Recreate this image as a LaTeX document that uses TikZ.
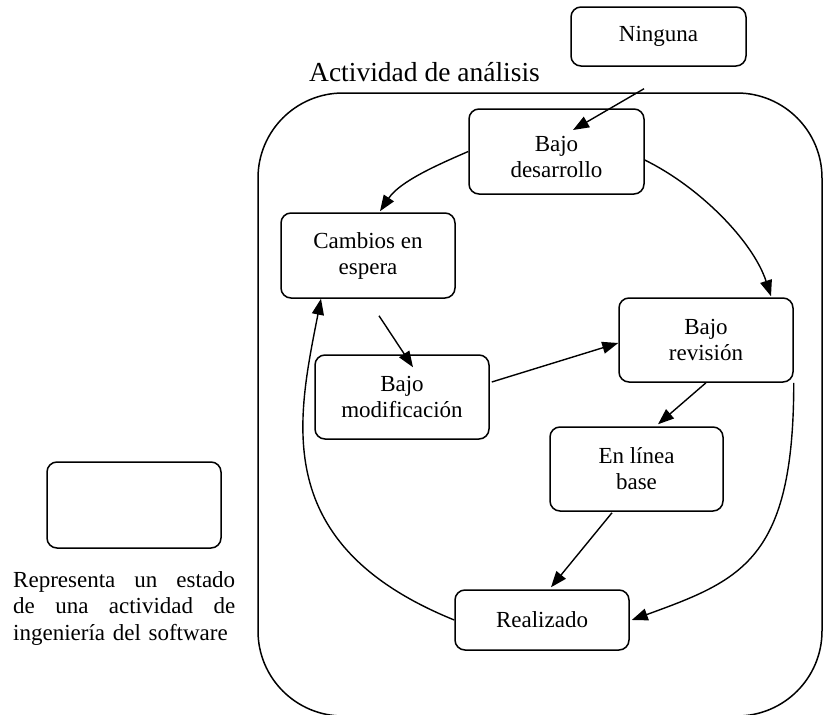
\documentclass[tikz,border=0pt]{standalone}
\usepackage{fontspec}
\setmainfont{Liberation Serif}
\usetikzlibrary{arrows.meta,calc}
\begin{document}
\begin{tikzpicture}[x=1pt,y=-1pt,
  state/.style={draw, line width=1.5pt, rounded corners=10pt, align=center,
    inner sep=0pt, font=\fontsize{23}{26}\selectfont},
  statetext/.style={align=center, inner sep=0pt, font=\fontsize{23}{26}\selectfont},
  flow/.style={line width=1.4pt, -{Triangle[length=16pt,width=12pt]}},
  frame/.style={draw, line width=1.5pt, rounded corners=85pt}]
\useasboundingbox (0,0) rectangle (823,715);
\fill[white] (0,0) rectangle (823,715);

% activity frame and its title
\draw[frame] (258,93) rectangle (822,716);
\node[font=\fontsize{27.5}{32}\selectfont, anchor=base, inner sep=0pt] (title) at (424.5,81) {Actividad de análisis};

% states
\node[state, minimum width=175pt, minimum height=59pt] (ning) at (658.5,36.5) {Ninguna};
\node[state, minimum width=175pt, minimum height=85pt] (bdes) at (556.5,151.5) {};
\node[statetext] (bdestext) at ($(bdes.center)+(0,5)$) {Bajo\\desarrollo};
\node[state, minimum width=174pt, minimum height=85pt] (cesp) at (368,255.5) {Cambios en\\espera};
\node[state, minimum width=174pt, minimum height=84pt] (bmod) at (402,397) {Bajo\\modificación};
\node[state, minimum width=174pt, minimum height=84pt] (brev) at (706,340) {Bajo\\revisión};
\node[state, minimum width=173pt, minimum height=84pt] (elb) at (636.5,469) {En línea\\base};
\node[state, minimum width=174pt, minimum height=60pt] (real) at (542,620) {Realizado};

% legend
\node[state, minimum width=174pt, minimum height=86pt] (legbox) at (134,505) {};
\node[anchor=north west, text width=222pt, align=left, inner sep=0pt,
  font=\fontsize{23}{26.5}\selectfont] (legtext) at (13,571)
  {\leavevmode\hbox to 222pt{Representa\hfill un\hfill estado}\\
   \leavevmode\hbox to 222pt{de\hfill una\hfill actividad\hfill de}\\
   ingeniería del software};

% connector end points
\coordinate (ningout) at ($(ning.south)+(-14.5,22)$);
\coordinate (bdesin) at ($(bdes.center)+(16.5,-21.5)$);
\coordinate (bdesright) at ($(bdes.east)+(0,8.5)$);
\coordinate (cespin) at ($(cesp.north)+(12,-1)$);
\coordinate (brevin) at ($(brev.north)+(65,-1)$);
\coordinate (cespout) at ($(cesp.south)+(11,17)$);
\coordinate (bmodin) at ($(bmod.north)+(11,13)$);
\coordinate (bmodout) at ($(bmod.east)+(2,-15)$);
\coordinate (brevleft) at ($(brev.west)+(0,3)$);
\coordinate (elbin) at ($(elb.north)+(21.5,-2)$);
\coordinate (elbout) at ($(elb.south)+(-24.5,1)$);
\coordinate (realin) at ($(real.north)+(9,-2)$);
\coordinate (realright) at ($(real.east)+(2,0)$);
\coordinate (cespback) at ($(cesp.south)+(-47,0)$);

% transitions
\draw[flow] (ningout) -- (bdesin);
\draw[flow] (bdes.west) .. controls +(-30,13) and +(20,-30) .. (cespin);
\draw[flow] (bdesright) .. controls +(55,27) and +(-18,-55) .. (brevin);
\draw[flow] (cespout) -- (bmodin);
\draw[flow] (bmodout) -- (brevleft);
\draw[flow] (brev.south) -- (elbin);
\draw[flow] (elbout) -- (realin);
\draw[flow] (brev.south east) .. controls +(0,177) and +(110,-40) .. (realright);
\draw[flow] (real.west) .. controls +(-185,-75) and +(-24,122) .. (cespback);
\end{tikzpicture}
\end{document}
